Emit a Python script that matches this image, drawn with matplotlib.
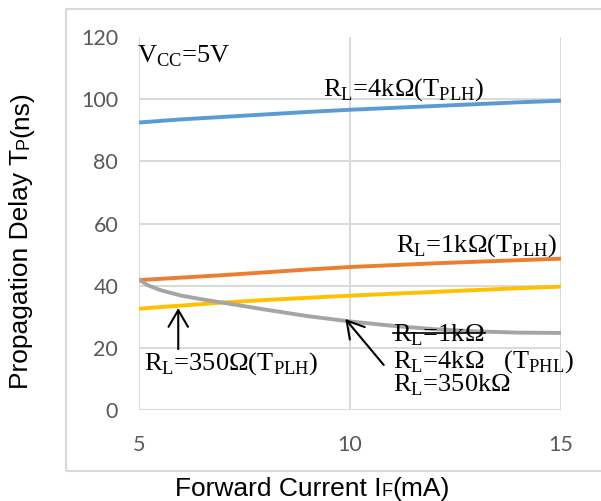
import matplotlib
matplotlib.use('Agg')
import matplotlib.pyplot as plt
from matplotlib.patches import Rectangle

# forward current IF (mA)
current = [5, 6, 7, 8, 9, 10, 11, 12, 13, 14, 15]

# propagation delay (ns)
tplh_4k = [92.5, 93.5, 94.3, 95.1, 95.9, 96.6, 97.2, 97.8, 98.4, 99.0, 99.5]
tplh_1k = [41.8, 42.6, 43.4, 44.3, 45.2, 46.0, 46.6, 47.2, 47.7, 48.2, 48.7]
tplh_350 = [32.6, 33.6, 34.6, 35.4, 36.1, 36.8, 37.4, 38.0, 38.6, 39.2, 39.7]

tphl_current = [5, 5.2, 5.5, 6, 6.5, 7, 8, 9, 10, 11, 12, 13, 14, 15]
tphl = [42.0, 40.2, 38.6, 36.8, 35.6, 34.5, 32.3, 30.2, 28.5, 27.1, 26.0, 25.3, 24.9, 24.8]

x_ticks = [5, 10, 15]
y_ticks = [0, 20, 40, 60, 80, 100, 120]

SERIF = 'Liberation Serif'
SANS = 'Liberation Sans'
GRID = '#d9d9d9'
W, H = 601, 501

fig = plt.figure(figsize=(W / 100, H / 100), dpi=100)
ax = fig.add_axes([0.2313, 0.1816, 0.702, 0.7445])

# chart frame (runs off the right edge like the original)
fig.patches.append(Rectangle((0.11, 0.06), 0.95, 0.922, transform=fig.transFigure,
                             fill=False, edgecolor=GRID, lw=1.5))

ax.plot(current, tplh_4k, color='#5b9bd5', lw=2.8, solid_capstyle='round')
ax.plot(current, tplh_1k, color='#ed7d31', lw=2.8, solid_capstyle='round')
ax.plot(current, tplh_350, color='#ffc000', lw=2.8, solid_capstyle='round')
ax.plot(tphl_current, tphl, color='#a5a5a5', lw=2.8, solid_capstyle='round')

ax.set_xlim(5, 15)
ax.set_ylim(0, 120)
ax.set_xticks(x_ticks)
ax.set_yticks(y_ticks)
ax.grid(True, color=GRID, lw=1.4)
ax.set_axisbelow(True)
ax.yaxis.get_gridlines()[-1].set_visible(False)
for s in ax.spines.values():
    s.set_visible(False)
ax.tick_params(length=0, labelsize=15.5, labelcolor='#595959')
ax.tick_params(axis='y', pad=15)
ax.tick_params(axis='x', pad=18)
for lab in ax.get_xticklabels() + ax.get_yticklabels():
    lab.set_family('Lato')


def run_text(x_px, y_px, pieces, vertical=False):
    # pieces of one label sharing a baseline, centred on (x_px, y_px) along the run
    arts = []
    for s, fs in pieces:
        arts.append(fig.text(0, 0, s, family=SANS, fontsize=fs, ha='left', va='baseline',
                             rotation=90 if vertical else 0, rotation_mode='anchor'))
    r = fig.canvas.get_renderer()
    lens = []
    for t in arts:
        bb = t.get_window_extent(r)
        lens.append(bb.height if vertical else bb.width)
    pos = -sum(lens) / 2
    for t, L in zip(arts, lens):
        if vertical:
            t.set_position((x_px / W, (y_px + pos) / H))
        else:
            t.set_position(((x_px + pos) / W, y_px / H))
        pos += L


run_text(312, H - 496, [('Forward Current I', 19), ('F', 13), ('(mA)', 19)])
run_text(28, H - 240, [('Propagation Delay T', 19), ('P', 13), ('(ns)', 19)], vertical=True)

# annotations
tkw = dict(family=SERIF, fontsize=19, va='baseline', ha='left')
ax.text(4.95, 111.9, r'V$_\mathregular{CC}$=5V', **tkw)
ax.text(9.35, 101.3, r'R$_\mathregular{L}$=4k$\mathregular{\Omega}$(T$_\mathregular{PLH}$)', **tkw)
ax.text(11.08, 50.9, r'R$_\mathregular{L}$=1k$\mathregular{\Omega}$(T$_\mathregular{PLH}$)', **tkw)
ax.text(5.12, 12.9, r'R$_\mathregular{L}$=350$\mathregular{\Omega}$(T$_\mathregular{PLH}$)', **tkw)
struck = ax.text(11.03, 21.9, r'R$_\mathregular{L}$=1k$\mathregular{\Omega}$', **tkw)
ax.text(11.03, 13.8, r'R$_\mathregular{L}$=4k$\mathregular{\Omega}$   (T$_\mathregular{PHL}$)', **tkw)
ax.text(11.03, 5.8, r'R$_\mathregular{L}$=350k$\mathregular{\Omega}$', **tkw)

akw = dict(arrowstyle='->,head_length=1.2,head_width=0.7', lw=1.5, color='black',
           shrinkA=0, shrinkB=0, mutation_scale=10)
ax.annotate('', xy=(5.93, 32.8), xytext=(5.93, 19.6), arrowprops=akw)
ax.annotate('', xy=(9.89, 29.3), xytext=(10.8, 14.5), arrowprops=akw)

# strike-through on the first RL=1k line
fig.canvas.draw()
bb = struck.get_window_extent().transformed(ax.transData.inverted())
ax.plot([bb.x0, bb.x1], [24.8, 24.8], color='black', lw=1.2)
ax.set_xlim(5, 15)
ax.set_ylim(0, 120)

fig.savefig('out.png', dpi=100)
